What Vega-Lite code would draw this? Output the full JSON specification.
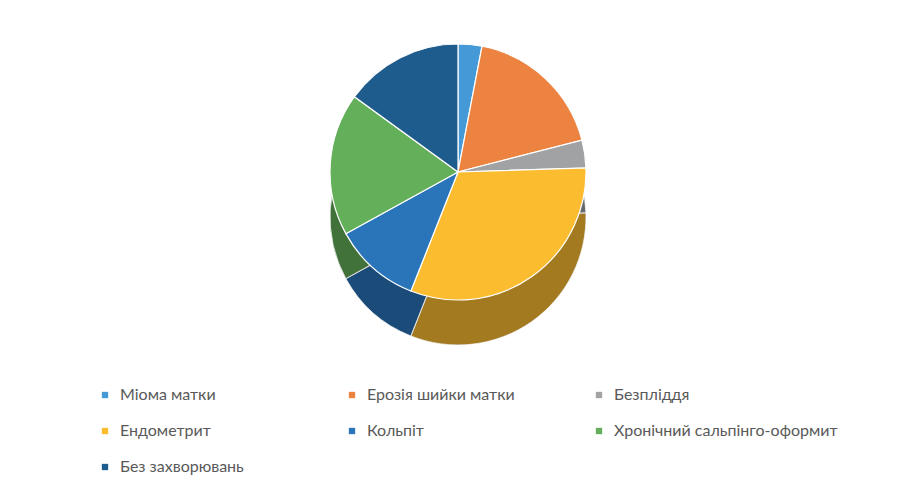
{
  "$schema": "https://vega.github.io/schema/vega-lite/v6.json",
  "width": 878,
  "height": 344,
  "autosize": {"type": "none"},
  "padding": {"left": 19, "top": 0, "right": 0, "bottom": 143},
  "background": "white",
  "config": {"view": {"stroke": null}},
  "data": {
    "values": [
      {"category": "Міома матки", "value": 3, "order": 1},
      {"category": "Ерозія шийки матки", "value": 18, "order": 2},
      {"category": "Безпліддя", "value": 3.5, "order": 3},
      {"category": "Ендометрит", "value": 31.5, "order": 4},
      {"category": "Кольпіт", "value": 11, "order": 5},
      {"category": "Хронічний сальпінго-оформит", "value": 18, "order": 6},
      {"category": "Без захворювань", "value": 15, "order": 7}
    ]
  },
  "encoding": {
    "theta": {"field": "value", "type": "quantitative", "stack": true},
    "order": {"field": "order", "type": "quantitative"}
  },
  "layer": [
    {
      "mark": {"type": "arc", "outerRadius": 128, "yOffset": 45, "stroke": "#ffffff", "strokeWidth": 0.6},
      "encoding": {
        "color": {"field": "category", "type": "nominal",
          "sort": ["Міома матки", "Ерозія шийки матки", "Безпліддя", "Ендометрит", "Кольпіт", "Хронічний сальпінго-оформит", "Без захворювань"],
          "scale": {
            "domain": ["Міома матки", "Ерозія шийки матки", "Безпліддя", "Ендометрит", "Кольпіт", "Хронічний сальпінго-оформит", "Без захворювань"],
            "range": ["#4599D6", "#EC8341", "#A0A2A4", "#FBBC30", "#2A75BA", "#63AF5A", "#1F5C8E"]
          },
          "legend": {
            "title": null,
            "orient": "none",
            "legendX": 78,
            "legendY": 387,
            "direction": "horizontal",
            "columns": 3,
            "gridAlign": "all",
            "columnPadding": 0,
            "rowPadding": 20,
            "symbolType": "square",
            "symbolSize": 40,
            "symbolStrokeWidth": 0,
            "symbolOffset": 0,
            "labelOffset": 7,
            "labelFont": "Lato",
            "labelFontSize": 16,
            "labelColor": "#595959",
            "labelLimit": 300
          }
        }
      }
    },
    {
      "mark": {"type": "arc", "outerRadius": 128, "yOffset": 45, "fill": "#000000", "fillOpacity": 0.35, "stroke": "#ffffff", "strokeWidth": 0.6},
      "encoding": {}
    },
    {
      "mark": {"type": "arc", "outerRadius": 128, "stroke": "#ffffff", "strokeWidth": 1.2},
      "encoding": {
        "color": {"field": "category", "type": "nominal"}
      }
    }
  ]
}
